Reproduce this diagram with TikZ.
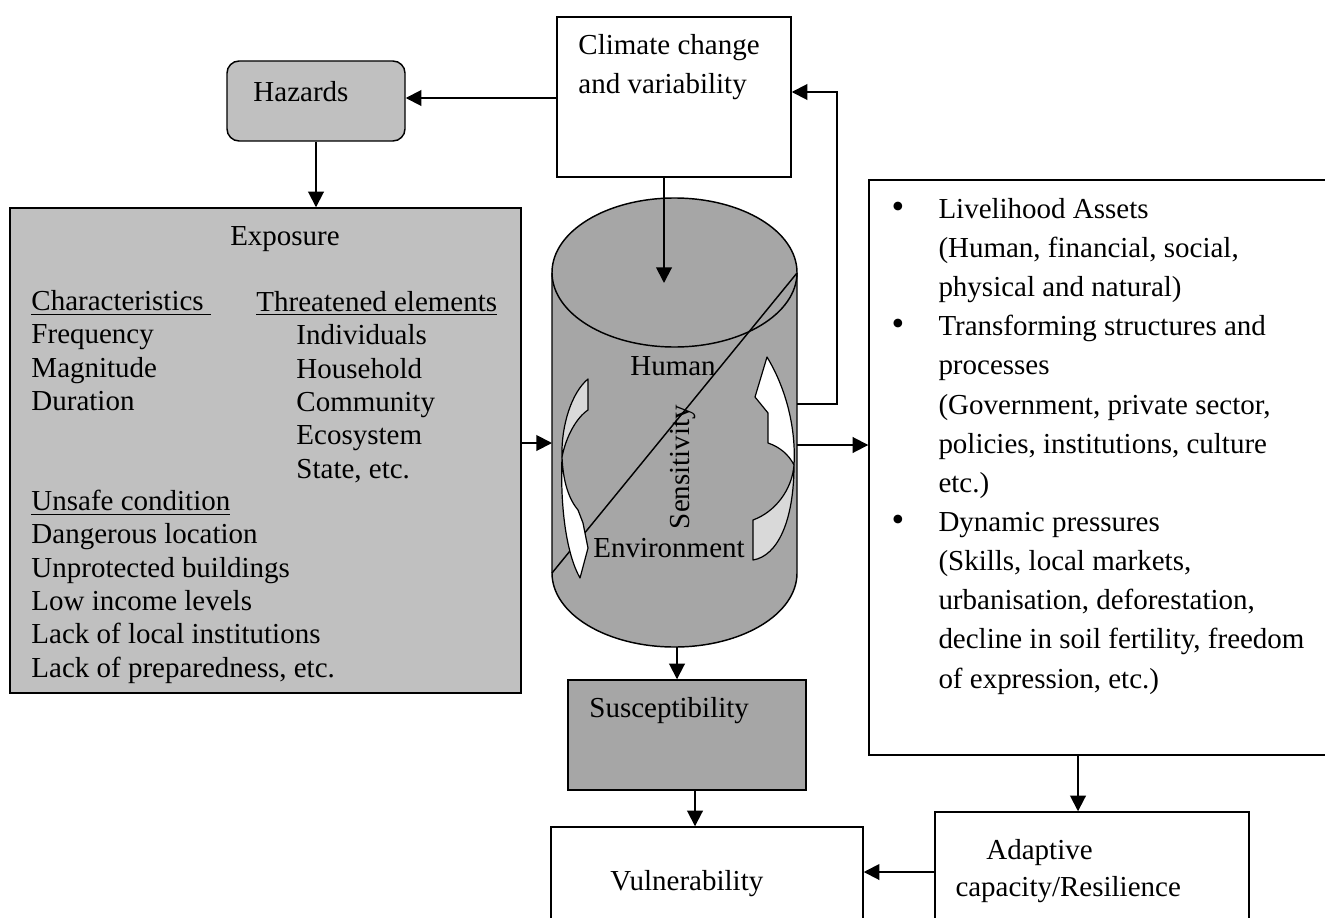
\documentclass[tikz,border=0pt]{standalone}
\usepackage{fontspec}
\setmainfont{Liberation Serif}
\usetikzlibrary{shapes,arrows.meta,positioning,fit}
\definecolor{lightgrey}{HTML}{C0C0C0}
\definecolor{midgrey}{HTML}{A6A6A6}
\definecolor{palegrey}{HTML}{D9D9D9}
\tikzstyle{block} = [rectangle, inner sep=0pt, draw=black, line width=0.6pt]
\tikzstyle{arrow} = [line width=0.8pt,-{Triangle[length=6.5pt,width=6.5pt]}]
\tikzstyle{txt} = [inner sep=0pt, anchor=base west, align=left, font=\fontsize{12}{16.2}\selectfont]

\begin{document}
\begin{tikzpicture}[x=0.414pt, y=-0.414pt]
    \tikzstyle{twist} = [draw=black, line width=0.5pt, line join=round]
    \tikzstyle{listtxt} = [txt, font=\fontsize{12}{13.8}\selectfont]
    \tikzstyle{dot} = [txt, anchor=base, font=\fontsize{15}{15}\selectfont]
    \useasboundingbox (0,0) rectangle (1325,917);
    \clip (0,0) rectangle (1325,917);

    % Nodes
    \node (hazards) [block, rounded corners=5pt, fill=lightgrey, fit={(227,61) (405,141)}] {};
    \node (climate) [block, fill=white, fit={(557,17) (791,177)}] {};
    \node (exposure) [block, fill=lightgrey, fit={(10,208) (521,693)}] {};
    \node (drivers) [block, fit={(869,180) (1345,755)}] {};
    \node (suscept) [block, fill=midgrey, fit={(568,680) (806,790)}] {};
    \node (vuln) [block, fit={(551,827) (863,940)}] {};
    \node (adaptive) [block, fit={(935,812) (1249,932)}] {};

    % Cylinder
    \node (cyl) [inner sep=0pt, fit={(552,198) (797,647)}] {};
    \filldraw[fill=midgrey, line width=0.6pt] (552,272.5) -- (552,573)
        .. controls (552,614) and (606.8,647) .. (674.5,647)
        .. controls (742.2,647) and (797,614) .. (797,573) -- (797,272.5);
    \filldraw[fill=midgrey, line width=0.6pt] (674.5,272.5) ellipse [x radius=122.5, y radius=74.5];
    \draw[line width=0.6pt] (552,573) -- (797,273);

    % Curved arrows
    \filldraw[twist, fill=palegrey] (588,379) -- (588,410)
        .. controls (576,418) and (566,437) .. (562,457)
        .. controls (561,425) and (572,392) .. (588,379) -- cycle;
    \filldraw[twist, fill=white] (580,578) -- (588,548) -- (583,523) -- (578,510)
        .. controls (568,498) and (563,480) .. (562,457)
        .. controls (560,510) and (567,555) .. (580,578) -- cycle;
    \filldraw[twist, fill=palegrey] (753,520) -- (753,560)
        .. controls (778,556) and (794,520) .. (794,465)
        .. controls (792,490) and (775,512) .. (753,520) -- cycle;
    \filldraw[twist, fill=white] (767,357) -- (755,397) -- (768,413) -- (768,443)
        .. controls (780,447) and (789,455) .. (794,465)
        .. controls (796,430) and (787,390) .. (767,357) -- cycle;

    % Texts (a block's base is the baseline of its last line)
    \node (hazardstext) [txt] at (253,102) {Hazards};
    \node (climatetext) [txt] at (578,94) {Climate change\\and variability};
    \node (exposuretext) [txt, anchor=base] at (285,245) {Exposure};
    \node (conditions) [listtxt] at (31,677) {\underline{Characteristics\ }\\Frequency\\Magnitude\\Duration\\[27.6pt]\underline{Unsafe condition}\\Dangerous location\\Unprotected buildings\\Low income levels\\Lack of local institutions\\Lack of preparedness, etc.};
    \node (threatened) [listtxt] at (256,311) {\underline{Threatened elements}};
    \node (elements) [listtxt] at (296,478) {Individuals\\Household\\Community\\Ecosystem\\State, etc.};
    \node (human) [txt, anchor=base] at (673,375) {Human};
    \node (environment) [txt, anchor=base] at (669,557) {Environment};
    \node (sensitivity) [txt, anchor=base, rotate=90] at (689,467) {Sensitivity};
    \node (driverstext) [txt] at (938,688) {Livelihood Assets\\(Human, financial, social,\\physical and natural)\\Transforming structures and\\processes\\(Government, private sector,\\policies, institutions, culture\\etc.)\\Dynamic pressures\\(Skills, local markets,\\urbanisation, deforestation,\\decline in soil fertility, freedom\\of expression, etc.)};
    \node (bulleta) [dot] at (898,218) {\textbullet};
    \node (bulletb) [dot] at (898,335) {\textbullet};
    \node (bulletc) [dot] at (898,531) {\textbullet};
    \node (suscepttext) [txt] at (589,717) {Susceptibility};
    \node (vulntext) [txt] at (610,890) {Vulnerability};
    \node (adaptivetext) [txt, font=\fontsize{12}{15}\selectfont] at (955,896) {\hspace*{12.8pt}Adaptive\\capacity/Resilience};

    % Arrows
    \coordinate (hazin) at (405,98);
    \coordinate (climinto) at (664,283);
    \coordinate (expin) at (552,443);
    \coordinate (fbout) at (797,404);
    \coordinate (fbcorner) at (837,92);
    \coordinate (drvin) at (797,445);
    \coordinate (cylout) at (677,647);
    \coordinate (susout) at (695,790);
    \coordinate (adin) at (1078,755);
    \draw[arrow] (climate.west |- hazin) -- (hazards.east |- hazin);
    \draw[arrow] (hazards.south) -- (hazards.south |- exposure.north);
    \draw[arrow] (climate.south -| climinto) -- (climinto);
    \draw[arrow] (exposure.east |- expin) -- (expin);
    \draw[arrow] (fbout) -| (fbcorner) -- (climate.east |- fbcorner);
    \draw[arrow] (drvin) -- (drivers.west |- drvin);
    \draw[arrow] (cylout) -- (cylout |- suscept.north);
    \draw[arrow] (suscept.south -| susout) -- (susout |- vuln.north);
    \draw[arrow] (drivers.south -| adin) -- (adin |- adaptive.north);
    \draw[arrow] (adaptive.west) -- (adaptive.west -| vuln.east);

\end{tikzpicture}
\end{document}
